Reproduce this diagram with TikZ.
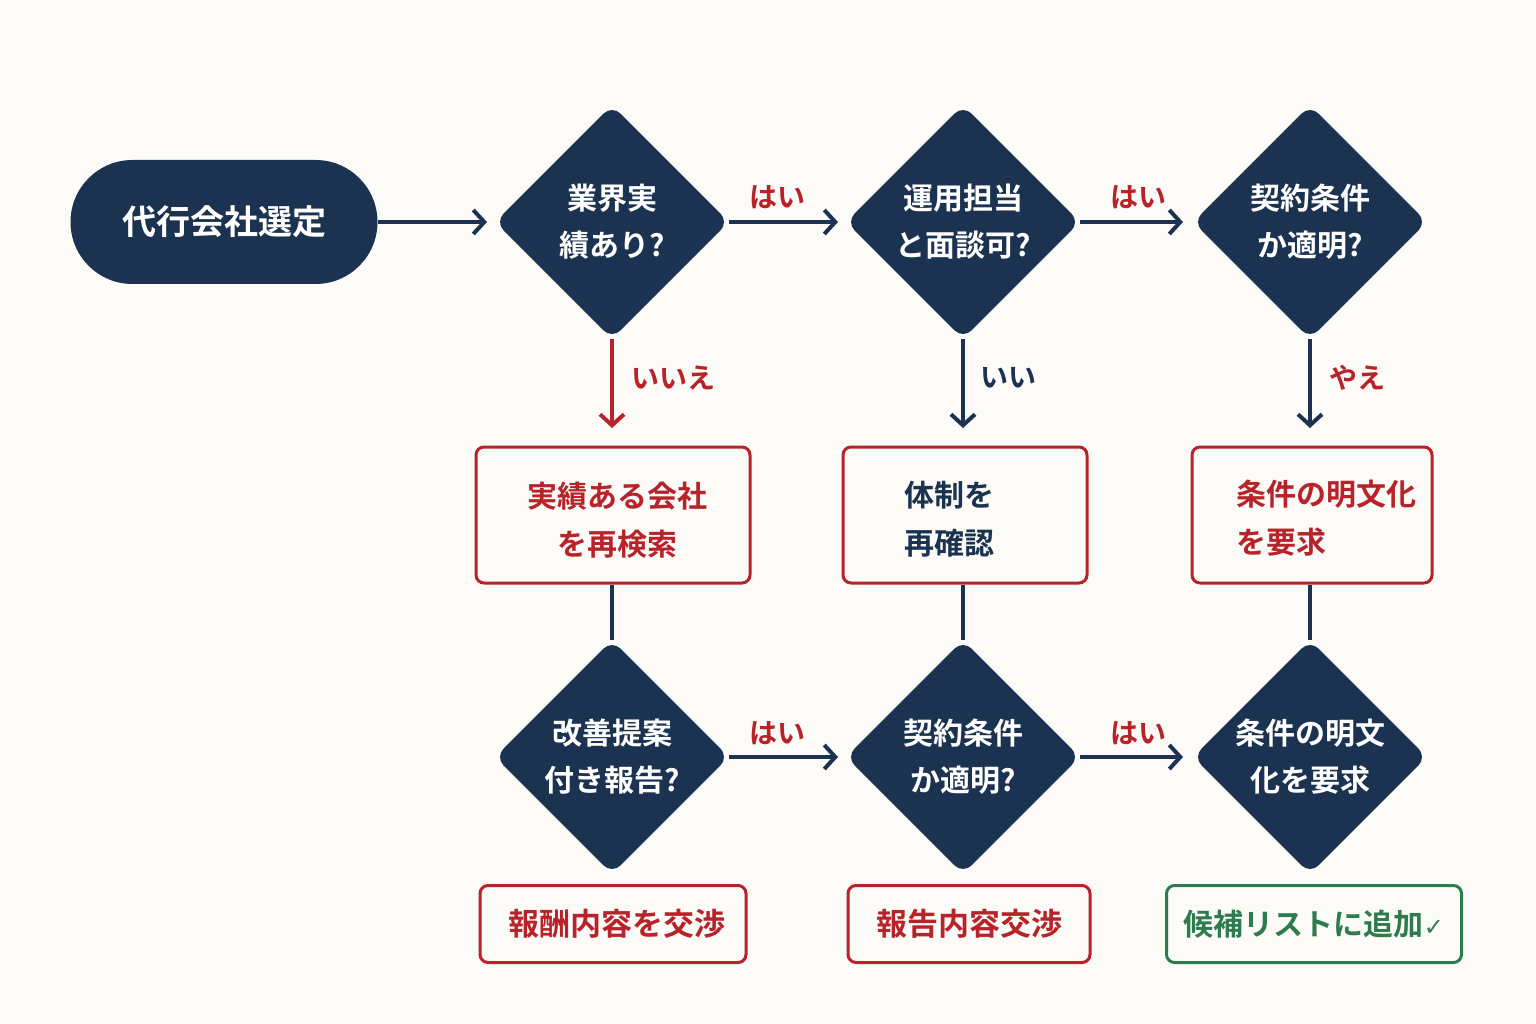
\documentclass[tikz,border=0pt]{standalone}
\usepackage{fontspec}
\newfontfamily\jp{Noto Sans CJK JP}[BoldFont={* Bold}]
\newfontfamily\sym{DejaVu Sans}
\usetikzlibrary{shapes.geometric,arrows.meta}
\definecolor{navy}{HTML}{1B3350}
\definecolor{myred}{HTML}{B8232A}
\definecolor{mygreen}{HTML}{2E7B4E}
\definecolor{bg}{HTML}{FCFBF7}
\begin{document}
\begin{tikzpicture}[x=1pt,y=-1pt,
  dec/.style={diamond, fill=navy, inner sep=0pt, minimum width=234pt, minimum height=234pt, rounded corners=12pt, text=white, align=center, font=\jp\bfseries\fontsize{30}{47}\selectfont},
  rbox/.style={draw=myred, line width=3pt, rounded corners=8pt, fill=bg, inner sep=0pt},
  gbox/.style={draw=mygreen, line width=3pt, rounded corners=8pt, fill=bg, inner sep=0pt},
  conn/.style={draw=navy, line width=4pt},
  arr/.style={conn, -{Straight Barb[length=11pt,width=24pt,line width=4pt]}},
  lbl/.style={font=\jp\bfseries\fontsize{28}{30}\selectfont, text=myred},
  btxt/.style={font=\jp\bfseries\fontsize{30}{48}\selectfont, align=left}
]
\fill[bg] (0,0) rectangle (1536,1024);
\useasboundingbox (0,0) rectangle (1536,1024);

% start terminal
\node[fill=navy, rounded corners=62pt, minimum width=307pt, minimum height=124pt, inner sep=0pt, text=white, font=\jp\bfseries\fontsize{34}{40}\selectfont] (start) at (224,222) {代行会社選定};

% diamonds row 1
\node[dec] (d1) at (612,222) {業界実\\績あり?};
\node[dec] (d2) at (963,222) {運用担当\\と面談可?};
\node[dec] (d3) at (1310,222) {契約条件\\か適明?};

% boxes row 2
\node[rbox, minimum width=274pt, minimum height=136pt] (b1) at (613,515) {};
\node[btxt, text=myred, align=center] at (617,520) {実績ある会社\\を再検索};
\node[rbox, minimum width=244pt, minimum height=136pt] (b2) at (965,515) {};
\node[btxt, text=navy, anchor=west] at (901,519) {体制を\\再確認};
\node[rbox, minimum width=240pt, minimum height=136pt] (b3) at (1312,515) {};
\node[btxt, text=myred, anchor=west] at (1233,518) {条件の明文化\\を要求};

% diamonds row 3
\node[dec] (d4) at (612,757) {改善提案\\付き報告?};
\node[dec] (d5) at (963,757) {契約条件\\か適明?};
\node[dec] (d6) at (1310,757) {条件の明文\\化を要求};

% bottom boxes
\node[rbox, minimum width=266pt, minimum height=77pt, text=myred, font=\jp\bfseries\fontsize{31}{36}\selectfont] (r1) at (613,924) {\hspace*{8pt}報酬内容を交渉};
\node[rbox, minimum width=242pt, minimum height=77pt, text=myred, font=\jp\bfseries\fontsize{31}{36}\selectfont] (r2) at (969,924) {報告内容交渉};
\node[gbox, minimum width=295pt, minimum height=77pt, text=mygreen, font=\jp\bfseries\fontsize{30}{36}\selectfont] (r3) at (1314,924) {候補リストに追加{\sym\fontsize{24}{24}\selectfont ✓}};

% connectors
\coordinate (t1) at (487,222);
\draw[arr] (start.east) -- (t1);
\coordinate (t2) at (838,222);
\draw[arr] (d1.east) -- (t2);
\coordinate (t3) at (1183,222);
\draw[arr] (d2.east) -- (t3);
\coordinate (t4) at (612,428);
\draw[arr, draw=myred] (d1.south) -- (t4);
\coordinate (t7) at (963,428);
\draw[arr] (d2.south) -- (t7);
\coordinate (t8) at (1310,428);
\draw[arr] (d3.south) -- (t8);
\draw[conn] (b1.south -| d4.north) -- (d4.north);
\draw[conn] (b2.south -| d5.north) -- (d5.north);
\draw[conn] (b3.south -| d6.north) -- (d6.north);
\coordinate (t5) at (838,757);
\draw[arr] (d4.east) -- (t5);
\coordinate (t6) at (1183,757);
\draw[arr] (d5.east) -- (t6);

% labels
\node[lbl] at (777,197) {はい};
\node[lbl] at (1138,197) {はい};
\node[lbl] at (777,733) {はい};
\node[lbl] at (1138,733) {はい};
\node[lbl] at (673,378) {いいえ};
\node[lbl, text=navy] at (1008,378) {いい};
\node[lbl] at (1357,378) {やえ};
\end{tikzpicture}
\end{document}
